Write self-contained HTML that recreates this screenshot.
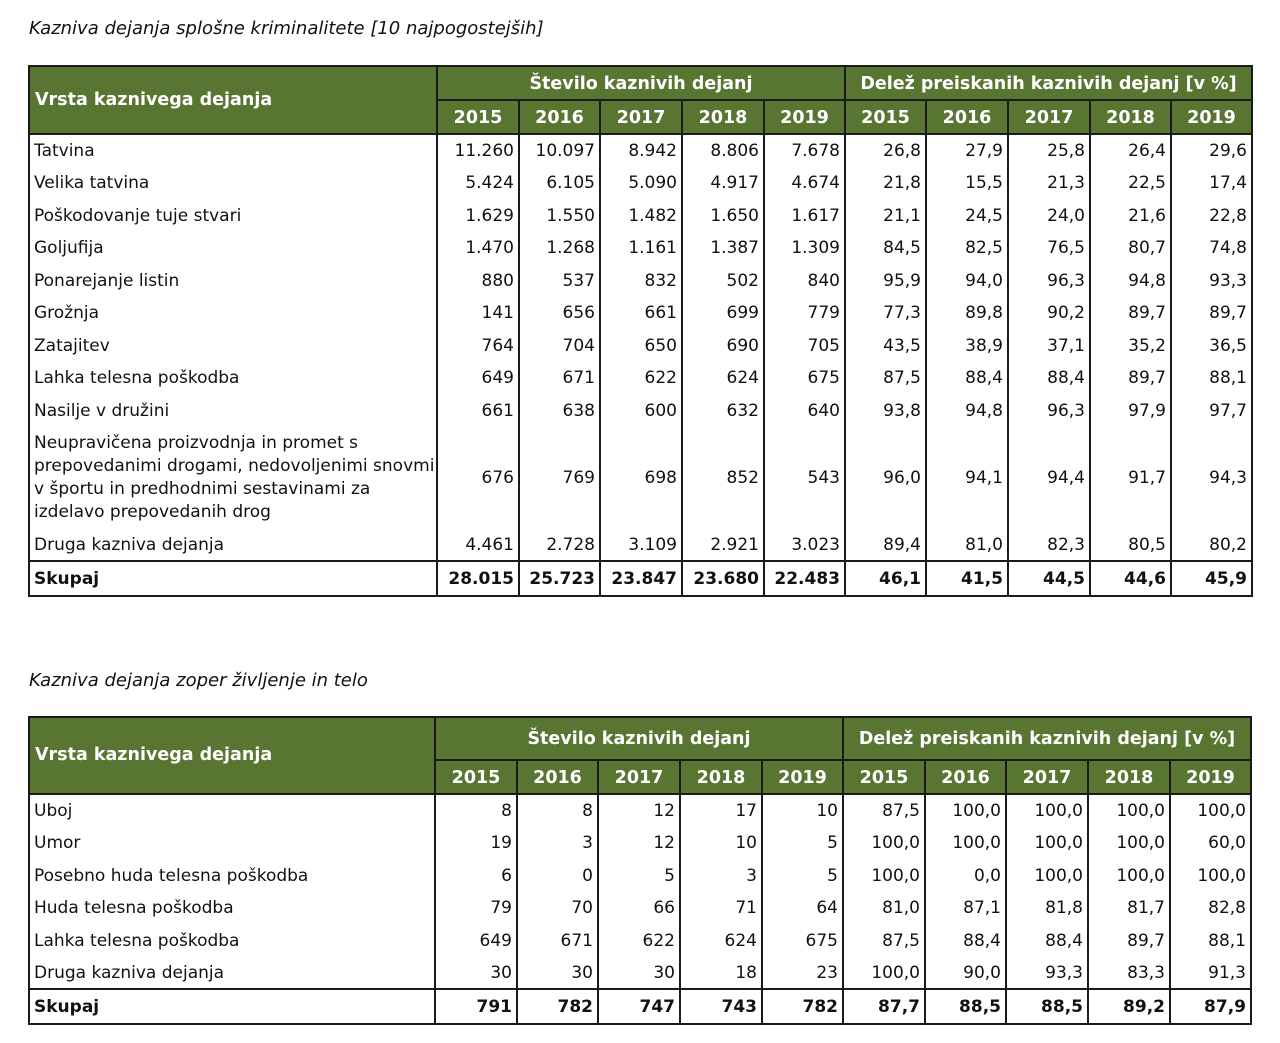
<!DOCTYPE html>
<html><head><meta charset="utf-8">
<style>
body{margin:0;width:1280px;height:1043px;background:#fff;position:relative;font-family:"DejaVu Sans","Liberation Sans",sans-serif;font-size:17px;color:#111;overflow:hidden}
.t{position:absolute;white-space:nowrap;box-sizing:border-box}
.ttl{position:absolute;left:29px;font-style:italic;font-size:18px;color:#111;white-space:nowrap}
.g{position:absolute;background:#587632}
.ln{position:absolute;background:#1a1a1a}
.h{color:#fff;font-weight:bold;text-align:center;font-size:17.5px}
.b{font-weight:bold}
</style></head><body>
<div class="ttl" style="top:18px">Kazniva dejanja splošne kriminalitete [10 najpogostejših]</div>
<div class="ttl" style="top:670px">Kazniva dejanja zoper življenje in telo</div>
<script>
const years=["2015","2016","2017","2018","2019"];
const t1Labels=["Tatvina","Velika tatvina","Poškodovanje tuje stvari","Goljufija","Ponarejanje listin","Grožnja","Zatajitev","Lahka telesna poškodba","Nasilje v družini","Neupravičena proizvodnja in promet s<br>prepovedanimi drogami, nedovoljenimi snovmi<br>v športu in predhodnimi sestavinami za<br>izdelavo prepovedanih drog","Druga kazniva dejanja","Skupaj"];
const t1Counts=[["11.260","10.097","8.942","8.806","7.678"],["5.424","6.105","5.090","4.917","4.674"],["1.629","1.550","1.482","1.650","1.617"],["1.470","1.268","1.161","1.387","1.309"],["880","537","832","502","840"],["141","656","661","699","779"],["764","704","650","690","705"],["649","671","622","624","675"],["661","638","600","632","640"],["676","769","698","852","543"],["4.461","2.728","3.109","2.921","3.023"],["28.015","25.723","23.847","23.680","22.483"]];
const t1Shares=[["26,8","27,9","25,8","26,4","29,6"],["21,8","15,5","21,3","22,5","17,4"],["21,1","24,5","24,0","21,6","22,8"],["84,5","82,5","76,5","80,7","74,8"],["95,9","94,0","96,3","94,8","93,3"],["77,3","89,8","90,2","89,7","89,7"],["43,5","38,9","37,1","35,2","36,5"],["87,5","88,4","88,4","89,7","88,1"],["93,8","94,8","96,3","97,9","97,7"],["96,0","94,1","94,4","91,7","94,3"],["89,4","81,0","82,3","80,5","80,2"],["46,1","41,5","44,5","44,6","45,9"]];
const t2Labels=["Uboj","Umor","Posebno huda telesna poškodba","Huda telesna poškodba","Lahka telesna poškodba","Druga kazniva dejanja","Skupaj"];
const t2Counts=[["8","8","12","17","10"],["19","3","12","10","5"],["6","0","5","3","5"],["79","70","66","71","64"],["649","671","622","624","675"],["30","30","30","18","23"],["791","782","747","743","782"]];
const t2Shares=[["87,5","100,0","100,0","100,0","100,0"],["100,0","100,0","100,0","100,0","60,0"],["100,0","0,0","100,0","100,0","100,0"],["81,0","87,1","81,8","81,7","82,8"],["87,5","88,4","88,4","89,7","88,1"],["100,0","90,0","93,3","83,3","91,3"],["87,7","88,5","88,5","89,2","87,9"]];

function mk(cls,x,y,w,h){const d=document.createElement('div');d.className=cls;d.style.left=x+'px';d.style.top=y+'px';d.style.width=w+'px';d.style.height=h+'px';document.body.appendChild(d);return d;}
function line(x,y,w,h){const d=mk('ln',x,y,w,h);

}
function txt(html,x,y,w,h,cls,align,lh){const d=mk('t '+cls,x,y,w,h);d.innerHTML=html;d.style.textAlign=align;d.style.lineHeight=(lh||h)+'px';d.style.padding='0 4px';if(lh){d.style.paddingTop=((h-lh*4)/2)+'px';}return d;}

function build(prefix,cols,top,h1,h2,rowH,labels,counts,shares){
  const bottomHead=top+h1+h2;
  const g=mk('g',cols[0],top,cols[11]-cols[0],h1+h2);
  
  
  let d=txt('Vrsta kaznivega dejanja',cols[0]+2,top,cols[1]-cols[0],h1+h2,'h','left');
  d.style.paddingBottom='2px';
  
  
  d=txt('Število kaznivih dejanj',cols[1],top+1,cols[6]-cols[1],h1,'h','center');
  
  
  d=txt('Delež preiskanih kaznivih dejanj [v %]',cols[6],top+1,cols[11]-cols[6],h1,'h','center');
  
  
  for(let i=0;i<10;i++){
    d=txt(years[i%5],cols[i+1],top+h1+1,cols[i+2]-cols[i+1],h2,'h','center');
    
    
  }
  let y=bottomHead;const ys=[top,top+h1,bottomHead];
  for(let r=0;r<labels.length;r++){
    const h=rowH[r];const last=r===labels.length-1;const cls=last?'b':'';
    const multi=labels[r].indexOf('<br>')>=0;
    d=txt(labels[r],cols[0]+1,y+1,cols[1]-cols[0],h,cls,'left',multi?23:null);
    
    
    for(let c=0;c<10;c++){
      const v=c<5?counts[r][c]:shares[r][c-5];
      d=txt(v,cols[c+1],y+1,cols[c+2]-cols[c+1],h,cls,'right');
      d.style.paddingRight='5px';
      
      
    }
    y+=h;ys.push(y);
  }
  const bot=y;
  line(cols[0]-1,top-1,cols[11]-cols[0]+2,2);
  line(cols[0]-1,bot-1,cols[11]-cols[0]+2,2);
  line(cols[0]-1,top-1,2,bot-top+2);
  line(cols[11]-1,top-1,2,bot-top+2);
  line(cols[1]-1,top,2,bot-top);
  line(cols[6]-1,top,2,bot-top);
  line(cols[1],top+h1-1,cols[11]-cols[1],2);
  for(let i=2;i<11;i++){if(i!==6)line(cols[i]-1,top+h1,2,bot-top-h1);}
  line(cols[0],bottomHead-1,cols[11]-cols[0],2);
  line(cols[0],ys[ys.length-2]-1,cols[11]-cols[0],2);
}
build('table1',[29,437,519,600,682,764,845,926,1008,1090,1171,1252],66,34,34,
  [32,33,32,33,32,33,32,33,32,102,33,35],t1Labels,t1Counts,t1Shares);
build('table2',[29,435,517,598,680,762,843,925,1006,1088,1170,1251],717,43,34,
  [32,33,32,33,32,33,35],t2Labels,t2Counts,t2Shares);
</script>
</body></html>
